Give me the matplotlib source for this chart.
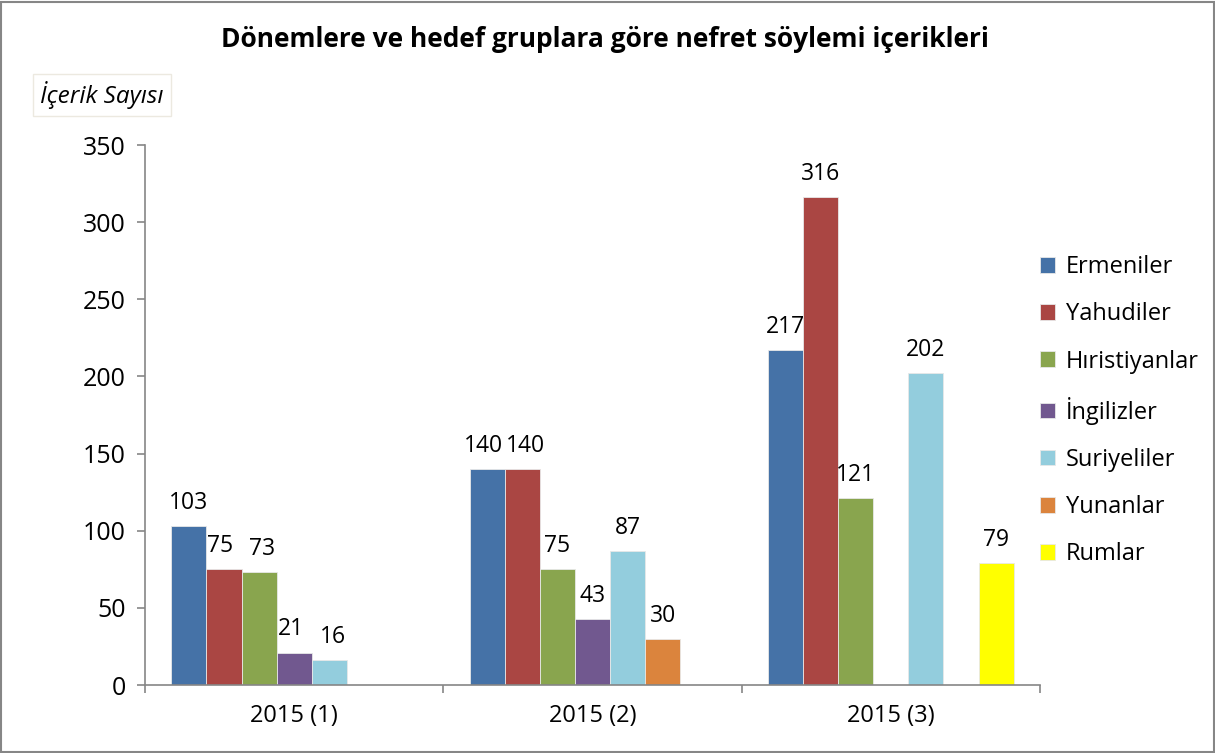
import numpy as np
import matplotlib.pyplot as plt
from matplotlib.patches import Rectangle

periods = ['2015 (1)', '2015 (2)', '2015 (3)']
groups = ['Ermeniler', 'Yahudiler', 'Hıristiyanlar', 'İngilizler',
          'Suriyeliler', 'Yunanlar', 'Rumlar']
ermeniler = [103, 140, 217]
yahudiler = [75, 140, 316]
hiristiyanlar = [73, 75, 121]
ingilizler = [21, 43, np.nan]
suriyeliler = [16, 87, 202]
yunanlar = [np.nan, 30, np.nan]
rumlar = [np.nan, np.nan, 79]
series = [ermeniler, yahudiler, hiristiyanlar, ingilizler,
          suriyeliler, yunanlar, rumlar]
colors = ['#4572A7', '#AA4643', '#89A54E', '#71588F',
          '#93CDDD', '#DB843D', '#FFFF00']

plt.rcParams['font.family'] = ['Open Sans', 'DejaVu Sans']

fig = plt.figure(figsize=(12.15, 7.53), dpi=100)
ax = fig.add_axes([0.1193, 0.0903, 0.7367, 0.7171])

# figure frame like the excel chart area
fig.patches.append(Rectangle((0.001, 0.001), 0.998, 0.997, transform=fig.transFigure,
                             fill=False, edgecolor='#868686', linewidth=1.5))

x = np.arange(len(periods))
width = 0.1175
n = len(series)
for i, (name, vals, c) in enumerate(zip(groups, series, colors)):
    pos = x + (i - (n - 1) / 2) * width
    ax.bar(pos, vals, width, color=c, label=name,
           edgecolor='#e8e8e8', linewidth=0.6)
    for j, (p, v) in enumerate(zip(pos, vals)):
        if np.isnan(v):
            continue
        # push apart labels of neighbouring bars with (almost) the same height
        dx = 0
        if i > 0 and abs(series[i - 1][j] - v) < 8:
            dx += 2.5
        if i < n - 1 and abs(series[i + 1][j] - v) < 8:
            dx -= 2.5
        ax.annotate(f'{int(v)}', (p, v), xytext=(dx, 8), textcoords='offset points',
                    ha='center', va='bottom', fontsize=16.5)

ax.set_xlim(-0.5, 2.5)
ax.set_ylim(0, 350)
ax.set_yticks(range(0, 351, 50))
ax.set_xticks(x)
ax.set_xticklabels(periods)
ax.set_xticks([-0.5, 0.5, 1.5, 2.5], minor=True)
ax.tick_params(axis='x', which='major', length=0, pad=14, labelsize=17)
ax.tick_params(axis='x', which='minor', length=6, color='#868686', width=1.2)
ax.tick_params(axis='y', length=6, color='#868686', width=1.2, labelsize=18, pad=8)

for s in ['top', 'right']:
    ax.spines[s].set_visible(False)
for s in ['left', 'bottom']:
    ax.spines[s].set_color('#868686')
    ax.spines[s].set_linewidth(1.2)

fig.text(0.498, 0.947, 'Dönemlere ve hedef gruplara göre nefret söylemi içerikleri',
         ha='center', va='center', fontsize=19, fontweight='bold')
fig.text(0.084, 0.874, 'İçerik Sayısı', ha='center', va='center', fontsize=17.5,
         style='italic',
         bbox=dict(boxstyle='square,pad=0.3', facecolor='white', edgecolor='#ece9e0'))

ax.legend(loc='center left', bbox_to_anchor=(1.0, 0.508), frameon=False,
          fontsize=17, handlelength=0.65, handleheight=0.65, handletextpad=0.45,
          labelspacing=0.98, borderaxespad=0, borderpad=0)

fig.savefig('out.png', dpi=100)
